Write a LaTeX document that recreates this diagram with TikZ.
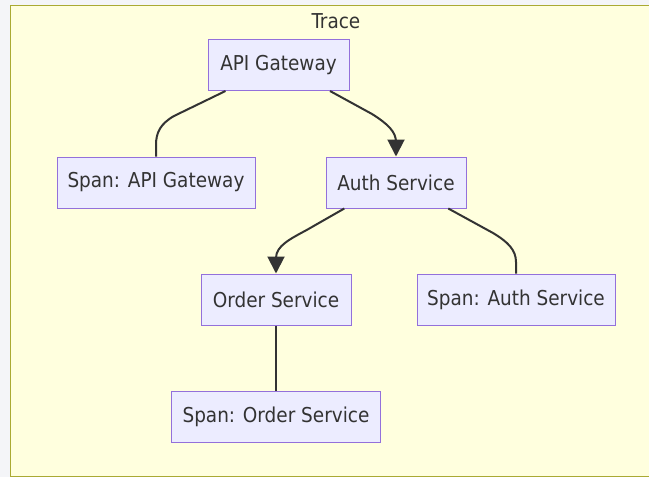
\documentclass[tikz,border=0pt]{standalone}
\usepackage{fontspec}
\setmainfont{DejaVu Sans Condensed}
\usetikzlibrary{arrows.meta,calc}
\definecolor{bgout}{HTML}{F4F5F8}
\definecolor{clfill}{HTML}{FFFFDE}
\definecolor{clline}{HTML}{AAAA33}
\definecolor{nfill}{HTML}{ECECFF}
\definecolor{nline}{HTML}{9370DB}
\definecolor{txt}{HTML}{333333}
\begin{document}
\begin{tikzpicture}[x=1pt,y=-1pt,
  box/.style={draw=nline,fill=nfill,line width=1pt,minimum height=51pt,inner sep=0pt,text=txt,font=\fontsize{20.5}{24}\selectfont},
  conn/.style={draw=txt,line width=2pt},
  arr/.style={conn,-{Triangle[length=17pt,width=17pt]}}]
\useasboundingbox (0,0) rectangle (649,477);
\fill[bgout] (0,0) rectangle (649,477);
\draw[fill=clfill,draw=clline,line width=1pt] (10,5.5) rectangle (662,476);
\node[anchor=base,text=txt,font=\fontsize{20.5}{24}\selectfont] (title) at (336,28) {Trace};
\node[box,minimum width=141pt] (api) at (278.5,65) {API Gateway};
\node[box,minimum width=198pt] (sapi) at (156,182.5) {Span: API Gateway};
\node[box,minimum width=140pt] (auth) at (396,182.5) {Auth Service};
\node[box,minimum width=150pt] (order) at (276,299.5) {Order Service};
\node[box,minimum width=198pt] (sauth) at (516,299.5) {Span: Auth Service};
\node[box,minimum width=209.5pt] (sorder) at (276,417) {Span: Order Service};
\draw[conn] ($(api.south)+(-53,0)$) -- (174,116) .. controls (160,124) and (156,133) .. (156,145) -- (sapi.north);
\draw[arr] ($(api.south)+(51.5,0)$) -- (372,114) .. controls (388,124) and (396,132) .. (396,142) -- (auth.north);
\draw[arr] ($(auth.south)+(-51.7,0)$) -- (306.7,230) .. controls (290,239) and (276,246) .. (276,258) -- (order.north);
\draw[conn] ($(auth.south)+(52.3,0)$) -- (493,233) .. controls (508,242) and (516,250) .. (516,262) -- (sauth.north);
\draw[conn] (order.south) -- (sorder.north);
\end{tikzpicture}
\end{document}
